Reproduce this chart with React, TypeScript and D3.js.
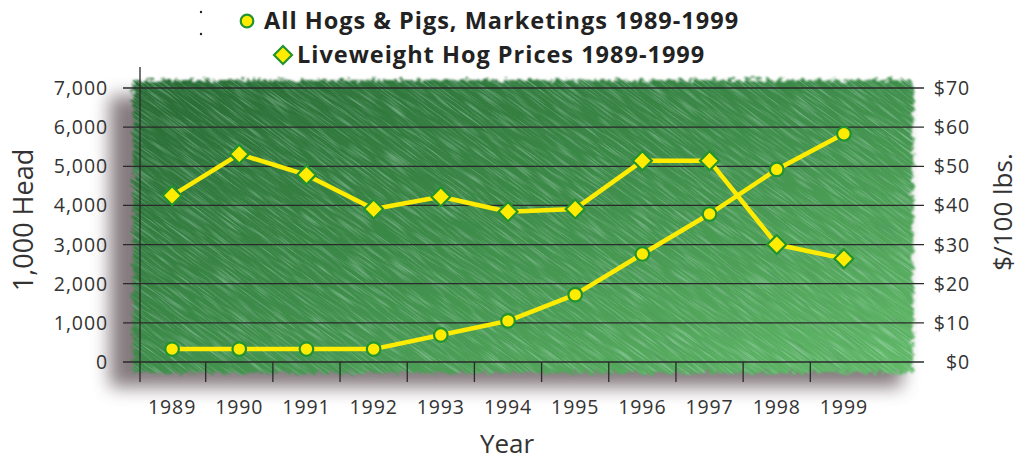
import React from "react";
import * as d3 from "d3";

const years = ["1989","1990","1991","1992","1993","1994","1995","1996","1997","1998","1999"];
const marketings = [330, 330, 330, 330, 690, 1050, 1720, 2760, 3780, 4920, 5830];
const prices = [42.5, 53.1, 47.8, 39.1, 42.2, 38.4, 39.1, 51.4, 51.4, 30.0, 26.4];
const leftTicks = [0, 1000, 2000, 3000, 4000, 5000, 6000, 7000];
const rightTicks = [0, 10, 20, 30, 40, 50, 60, 70];
const seriesNames = ["All Hogs & Pigs, Marketings 1989-1999", "Liveweight Hog Prices 1989-1999"];

const W = 1020, H = 460;
const FONT = "'Open Sans', 'Noto Sans', sans-serif";

export default function App() {
  const x = d3.scaleBand<string>().domain(years).range([138.5, 877.5]);
  const yL = d3.scaleLinear().domain([0, 7000]).range([362, 88]);
  const yR = d3.scaleLinear().domain([0, 70]).range([362, 88]);
  const cx = (d: string) => (x(d) as number) + x.bandwidth() / 2;

  const lineM = d3.line<number>().x((_, i) => cx(years[i])).y((d) => yL(d));
  const lineP = d3.line<number>().x((_, i) => cx(years[i])).y((d) => yR(d));

  const fmt = d3.format(",");
  const axisL = 140, gridL = 123, gridR = 924;
  const yellow = "#ffec00", green = "#23932f";

  const diamond = (px: number, py: number, r: number) =>
    `M${px},${py - r}L${px + r},${py}L${px},${py + r}L${px - r},${py}Z`;

  return (
    <svg width={W} height={H} style={{ position: "absolute", left: 0, top: 0, background: "#fff" }} fontFamily={FONT}>
      <defs>
        <linearGradient id="gbg" x1="0" y1="0" x2="1" y2="1">
          <stop offset="0" stopColor="#266832" />
          <stop offset="0.45" stopColor="#3b8a47" />
          <stop offset="1" stopColor="#66bf6c" />
        </linearGradient>
        <filter id="lightStreaks" x="0" y="0" width="100%" height="100%">
          <feTurbulence type="fractalNoise" baseFrequency="0.03 0.7" numOctaves="2" seed="3" />
          <feColorMatrix type="matrix" values="0 0 0 0 0.6  0 0 0 0 0.85  0 0 0 0 0.75  1.1 0 0 0 -0.52" />
        </filter>
        <filter id="darkStreaks" x="0" y="0" width="100%" height="100%">
          <feTurbulence type="fractalNoise" baseFrequency="0.03 0.7" numOctaves="2" seed="11" />
          <feColorMatrix type="matrix" values="0 0 0 0 0.08  0 0 0 0 0.25  0 0 0 0 0.12  1.0 0 0 0 -0.48" />
        </filter>
        <filter id="rough" x="-5%" y="-8%" width="110%" height="116%">
          <feTurbulence type="fractalNoise" baseFrequency="0.18 0.25" numOctaves="3" seed="7" result="n" />
          <feDisplacementMap in="SourceGraphic" in2="n" scale="12" xChannelSelector="R" yChannelSelector="G" result="d" />
          <feGaussianBlur in="d" stdDeviation="1.2" />
        </filter>
        <mask id="roughMask" maskUnits="userSpaceOnUse" x="0" y="0" width={W} height={H}>
          <rect x={133} y={80} width={780} height={293} fill="#fff" filter="url(#rough)" />
        </mask>
        <filter id="shadow" x="-10%" y="-20%" width="120%" height="140%">
          <feGaussianBlur stdDeviation="9" />
        </filter>
      </defs>

      {/* shadow */}
      <rect x={110} y={96} width={792} height={291} fill="#6f6467" opacity={0.85} filter="url(#shadow)" />
      {/* green textured plot background */}
      <g mask="url(#roughMask)">
        <rect x={120} y={70} width={810} height={315} fill="url(#gbg)" />
        <g transform="rotate(36 525 228)">
          <rect x={-80} y={-300} width={1200} height={1050} fill="#fff" filter="url(#lightStreaks)" />
          <rect x={-80} y={-300} width={1200} height={1050} fill="#fff" filter="url(#darkStreaks)" />
        </g>
      </g>

      {/* gridlines / left ticks */}
      {leftTicks.map((t) => (
        <line key={"g" + t} x1={gridL} x2={gridR} y1={yL(t)} y2={yL(t)} stroke="#2a2a2a" strokeWidth={1.3} />
      ))}
      {/* vertical axis */}
      <line x1={axisL} x2={axisL} y1={67} y2={382} stroke="#2a2a2a" strokeWidth={1.3} />
      {/* x ticks */}
      {years.slice(1).map((yr) => (
        <line key={"xt" + yr} x1={x(yr) as number} x2={x(yr) as number} y1={362} y2={382} stroke="#2a2a2a" strokeWidth={1.3} />
      ))}

      {/* left tick labels */}
      {leftTicks.map((t) => (
        <text key={"lt" + t} x={108} y={yL(t)} dy="0.36em" textAnchor="end" fontSize={19.5} letterSpacing={0.9} fill="#333">{fmt(t)}</text>
      ))}
      {/* right tick labels */}
      {rightTicks.map((t) => (
        <text key={"rt" + t} x={970} y={yR(t)} dy="0.36em" textAnchor="end" fontSize={19.5} letterSpacing={0.9} fill="#333">{"$" + t}</text>
      ))}
      {/* year labels */}
      {years.map((yr) => (
        <text key={"yl" + yr} x={cx(yr)} y={414} textAnchor="middle" fontSize={19.5} letterSpacing={0.9} fill="#333">{yr}</text>
      ))}

      {/* axis titles */}
      <text transform="translate(33,220) rotate(-90)" textAnchor="middle" fontSize={27} fill="#333">1,000 Head</text>
      <text transform="translate(1012,212) rotate(-90)" textAnchor="middle" fontSize={26} fill="#333">$/100 lbs.</text>
      <text x={507} y={453} textAnchor="middle" fontSize={26} fill="#333">Year</text>

      {/* lines */}
      <path d={lineP(prices) as string} fill="none" stroke={yellow} strokeWidth={4.5} strokeLinejoin="round" />
      <path d={lineM(marketings) as string} fill="none" stroke={yellow} strokeWidth={4.5} strokeLinejoin="round" />
      {prices.map((p, i) => (
        <path key={"d" + i} d={diamond(cx(years[i]), yR(p), 9.5)} fill={yellow} stroke={green} strokeWidth={2.2} />
      ))}
      {marketings.map((m, i) => (
        <circle key={"c" + i} cx={cx(years[i])} cy={yL(m)} r={6.8} fill={yellow} stroke={green} strokeWidth={2.2} />
      ))}

      {/* legend */}
      <circle cx={201} cy={12} r={1.2} fill="#222" />
      <circle cx={201} cy={34} r={1.2} fill="#222" />
      <circle cx={247} cy={21} r={6.3} fill={yellow} stroke={green} strokeWidth={2.2} />
      <text x={264} y={29} fontSize={23.5} fontWeight={700} letterSpacing={1.0} fill="#222">{seriesNames[0]}</text>
      <path d={diamond(283, 55, 9)} fill={yellow} stroke={green} strokeWidth={2.2} />
      <text x={297} y={63} fontSize={23.5} fontWeight={700} letterSpacing={1.0} fill="#222">{seriesNames[1]}</text>
    </svg>
  );
}
